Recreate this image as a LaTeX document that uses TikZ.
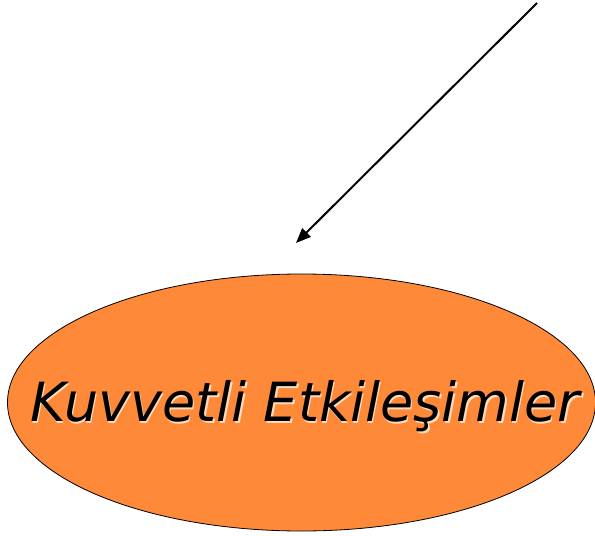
\documentclass[tikz,border=0pt]{standalone}
\usepackage{fontspec}
\setsansfont{DejaVu Sans}
\usepackage{tikz}
\usetikzlibrary{shapes.geometric, arrows.meta, positioning}
\definecolor{forceorange}{RGB}{253,137,57}
\definecolor{glow}{RGB}{255,220,190}

\begin{document}
\begin{tikzpicture}[
    x=1pt, y=-1pt,
    blob/.style={ellipse, draw, fill=forceorange, line width=0.8pt, minimum width=588pt, minimum height=257pt, inner sep=0pt},
    arrow/.style={-{Triangle[length=15pt, width=12pt]}, line width=2pt},
    label/.style={font=\sffamily\itshape\fontsize{54}{60}\selectfont},
]
\useasboundingbox (0,0) rectangle (595,536);

% Strong interactions
\node[blob] (kuv) at (301.5,402.5) {};
\node[label, text=glow] at (306.5,408) {Kuvvetli Etkileşimler};
\node[label] (txt) at (305,406) {Kuvvetli Etkileşimler};

% Incoming arrow
\coordinate (src) at (537,3);
\coordinate (dst) at (296,243);
\draw[arrow] (src) -- (dst);

\end{tikzpicture}
\end{document}
